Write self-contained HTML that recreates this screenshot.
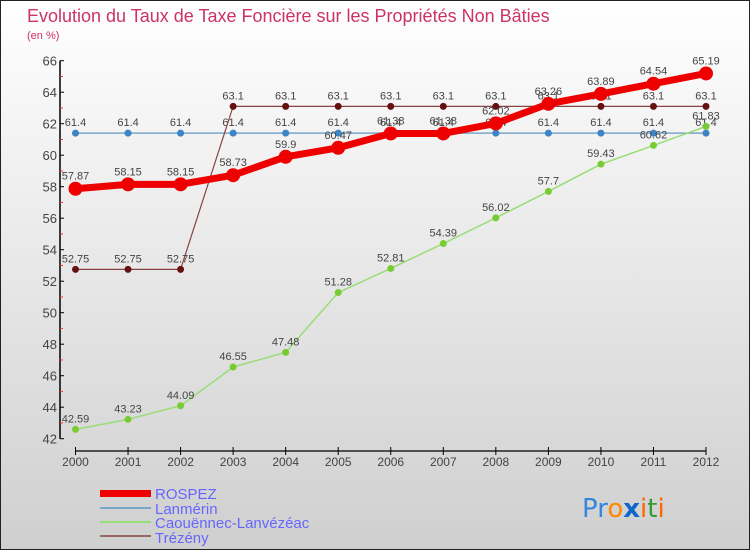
<!DOCTYPE html>
<html><head><meta charset="utf-8"><style>
html,body{margin:0;padding:0}
body{width:750px;height:550px;overflow:hidden;font-family:"Liberation Sans",sans-serif}
</style></head><body>
<svg id="chart" width="750" height="550" xmlns="http://www.w3.org/2000/svg" font-family="Liberation Sans, sans-serif">
<defs><linearGradient id="bg" x1="0" y1="0" x2="0" y2="1"><stop offset="0" stop-color="#ffffff"/><stop offset="1" stop-color="#cfcfcf"/></linearGradient></defs>
<rect x="0.5" y="0.5" width="749" height="549" fill="url(#bg)" stroke="#222" stroke-width="1"/>
<text x="27" y="22" font-size="18" fill="#cc3366">Evolution du Taux de Taxe Foncière sur les Propriétés Non Bâties</text>
<text x="27" y="39" font-size="11" fill="#cc3366">(en %)</text>
<g id="axes"></g>
<g id="series"></g>
<g id="legend">
<rect x="100" y="490" width="51" height="7" fill="#ee0000"/>
<text x="155" y="499" font-size="15" fill="#6666ff">ROSPEZ</text>
<line x1="100" y1="508" x2="151" y2="508" stroke="#7aa6c8" stroke-width="2"/>
<text x="155" y="514" font-size="15" fill="#6666ff">Lanmérin</text>
<line x1="100" y1="522" x2="151" y2="522" stroke="#99dd77" stroke-width="2"/>
<text x="155" y="528" font-size="15" fill="#6666ff">Caouënnec-Lanvézéac</text>
<line x1="100" y1="536" x2="151" y2="536" stroke="#996666" stroke-width="2"/>
<text x="155" y="543" font-size="15" fill="#6666ff">Trézény</text>
</g>
<g font-size="26" font-family="DejaVu Sans, sans-serif">
<text x="582" y="517"><tspan fill="#3388dd">Pr</tspan><tspan fill="#ff8800">o</tspan><tspan fill="#1166cc" font-weight="bold">x</tspan><tspan fill="#ff6600">i</tspan><tspan fill="#339933">t</tspan><tspan fill="#ff6600">i</tspan></text>
</g>
</svg>
<script>
const years = [2000,2001,2002,2003,2004,2005,2006,2007,2008,2009,2010,2011,2012];
const rospez = [57.87,58.15,58.15,58.73,59.9,60.47,61.38,61.38,62.02,63.26,63.89,64.54,65.19];
const lanmerin = [61.4,61.4,61.4,61.4,61.4,61.4,61.4,61.4,61.4,61.4,61.4,61.4,61.4];
const caouennec = [42.59,43.23,44.09,46.55,47.48,51.28,52.81,54.39,56.02,57.7,59.43,60.62,61.83];
const trezeny = [52.75,52.75,52.75,63.1,63.1,63.1,63.1,63.1,63.1,63.1,63.1,63.1,63.1];
const yTicks = [42,44,46,48,50,52,54,56,58,60,62,64,66];
const NS='http://www.w3.org/2000/svg';
const yMin=42,yMax=66,yTop=60.7,yBot=438.7,x0=75.5,x1=706;
function X(i){return x0+(x1-x0)*i/(years.length-1);}
function Y(v){return yBot-(v-yMin)/(yMax-yMin)*(yBot-yTop);}
function mk(tag,attrs,parent){const e=document.createElementNS(NS,tag);for(const k in attrs)e.setAttribute(k,attrs[k]);parent.appendChild(e);return e;}
const axes=document.getElementById('axes');
const ya=mk('line',{x1:60,y1:yTop,x2:60,y2:yBot,stroke:'#000','stroke-width':1.5},axes);


yTicks.forEach((t,k)=>{
 const tk=mk('line',{x1:60,y1:Y(t),x2:64,y2:Y(t),stroke:'#000'},axes);
 
 
 const lb=mk('text',{x:57,y:Y(t)+5,'text-anchor':'end','font-size':13,fill:'#444'},axes);
 lb.textContent=t;
 
 
 if(k<yTicks.length-1){
  const m=mk('line',{x1:60,y1:Y(t+1),x2:63,y2:Y(t+1),stroke:'#ee3333'},axes);
  
  
 }
});
const xa=mk('line',{x1:x0,y1:451,x2:x1,y2:451,stroke:'#000','stroke-width':1.2},axes);


years.forEach((yr,i)=>{
 const tk=mk('line',{x1:X(i),y1:447,x2:X(i),y2:455,stroke:'#000'},axes);
 
 
 const lb=mk('text',{x:X(i),y:466,'text-anchor':'middle','font-size':12,fill:'#444'},axes);
 lb.textContent=yr;
 
 
});
const S=document.getElementById('series');
function draw(name,vals,color,dot,w,r){
 const g=mk('g',{},S);
 
 
 const p=mk('polyline',{points:vals.map((v,i)=>X(i)+','+Y(v)).join(' '),fill:'none',stroke:color,'stroke-width':w,'stroke-linejoin':'round'},g);
 
 
 vals.forEach((v,i)=>{
  const c=mk('circle',{cx:X(i),cy:Y(v),r:r,fill:dot},g);
  
  
  const t=mk('text',{x:X(i),y:Y(v)-7-(r>4?2:0),'text-anchor':'middle','font-size':11,fill:'#444'},g);
  t.textContent=String(v);
  
  
 });
}
draw('lanmerin',lanmerin,'#7aa6c8','#3d85c6',1.5,3.5);
draw('caouennec',caouennec,'#99dd77','#77cc33',1.5,3.5);
draw('trezeny',trezeny,'#884444','#661111',1.2,3.5);
draw('rospez',rospez,'#ee0000','#ee0000',7,7);
</script>
</body></html>
